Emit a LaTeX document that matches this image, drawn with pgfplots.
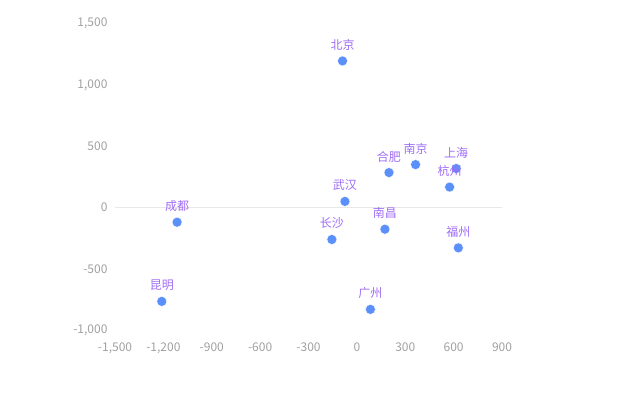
\documentclass[border=0pt]{standalone}
\usepackage{pgfplots}
\pgfplotsset{compat=1.18}
\usepackage{fontspec}
\setmainfont{Noto Sans CJK SC}
\definecolor{dotc}{HTML}{5B8FF9}
\definecolor{labc}{HTML}{9F6DF6}
\definecolor{tickc}{HTML}{A0A0A0}
\definecolor{zeroc}{HTML}{E8E8E8}
\begin{document}
\begin{tikzpicture}[x=1pt,y=1pt]
\path[use as bounding box] (0,0) rectangle (620,395);
\begin{axis}[
  at={(115pt,64.5pt)}, anchor=south west,
  scale only axis, width=387pt, height=307pt,
  xmin=-1500, xmax=900, ymin=-1000, ymax=1500,
  xtick={-1500,-1200,...,900}, ytick={-1000,-500,...,1500},
  axis line style={draw=none}, tick style={draw=none},
  tick label style={font=\fontsize{12}{14}\selectfont, text=tickc},
  /pgf/number format/assume math mode=true,
  /pgf/number format/1000 sep={,},
  /pgf/number format/fixed,
  xticklabel style={yshift=-8.5pt},
  yticklabel style={xshift=-4pt},
  clip=false,
]
\addplot[zeroc, line width=0.8pt, forget plot] coordinates {(-1500,0) (900,0)};
\addplot[only marks, mark=*, mark size=5pt, mark options={draw=white, line width=0.4pt, fill=dotc},
  nodes near coords, point meta=explicit symbolic,
  every node near coord/.append style={font=\fontsize{12}{14}\selectfont, text=labc, anchor=south, yshift=7pt}]
 table[meta=label] {
x y label
-89 1195 北京
199 286 合肥
364 351 南京
616 319 上海
575 168 杭州
-74 51 武汉
-1115 -118 成都
-1210 -763 昆明
-155 -259 长沙
174 -175 南昌
629 -327 福州
84 -828 广州
};
\end{axis}
\end{tikzpicture}
\end{document}
